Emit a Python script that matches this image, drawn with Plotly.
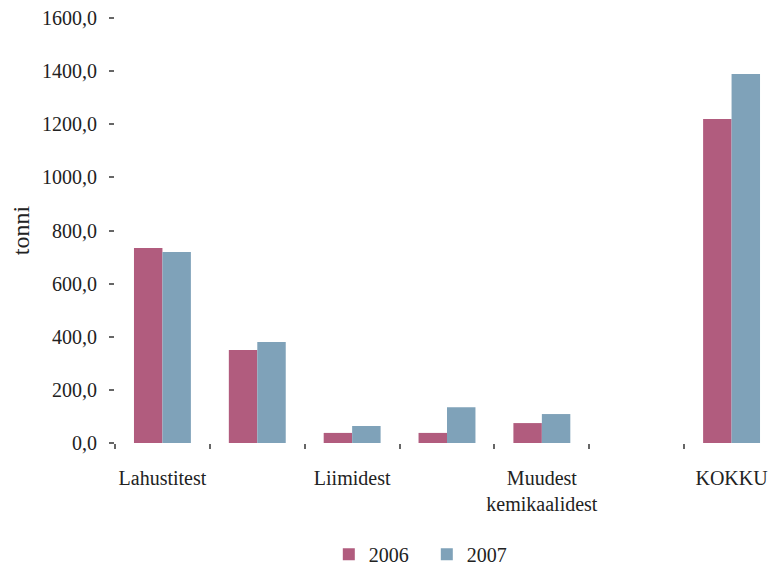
import plotly.graph_objects as go

categories = ["Lahustitest", "Värvidest", "Liimidest", "Lakkidest",
              "Muudest kemikaalidest", "Muu", "KOKKU"]
tick_labels = ["Lahustitest", "", "Liimidest", "", "Muudest<br>kemikaalidest", "", "KOKKU"]
values_2006 = [734, 350, 38, 38, 75, 0, 1220]
values_2007 = [719, 380, 64, 135, 109, 0, 1389]

font = "Liberation Serif"
ink = "#222222"

fig = go.Figure()
fig.add_trace(go.Bar(x=categories, y=values_2006, name="2006",
                     marker=dict(color="#b15c7e", line_width=0)))
fig.add_trace(go.Bar(x=categories, y=values_2007, name="2007",
                     marker=dict(color="#7fa2b9", line_width=0)))

# page body adds an 8px margin, so the figure is 8px smaller than the window
fig.update_layout(
    width=771, height=558,
    margin=dict(l=107, r=0, t=10, b=123, autoexpand=False),
    plot_bgcolor="white", paper_bgcolor="white",
    font=dict(family=font, size=20, color=ink),
    barmode="group", bargap=0.4, bargroupgap=0,
    separators=", ",
    showlegend=True,
    legend=dict(orientation="h", x=0.322, xanchor="left", y=-0.262, yanchor="middle",
                font=dict(size=20), itemwidth=30, entrywidth=53),
)
fig.update_xaxes(
    tickmode="array", tickvals=categories, ticktext=tick_labels, tickangle=0,
    tickson="boundaries", ticks="outside", ticklen=5, tickwidth=1.5, tickcolor="#666",
    showline=False, showgrid=False, zeroline=False, ticklabelstandoff=21,
    automargin=False,
)
fig.update_yaxes(
    range=[0, 1600], tickvals=[0, 200, 400, 600, 800, 1000, 1200, 1400, 1600],
    tickformat=".1f", ticks="outside", ticklen=5, tickwidth=1.5, tickcolor="#666",
    showline=False, showgrid=False, zeroline=False, ticklabelstandoff=8,
    ticklabeloverflow="allow",
    title=dict(text="tonni", standoff=12), automargin=True,
)

fig.write_html("out.html")
